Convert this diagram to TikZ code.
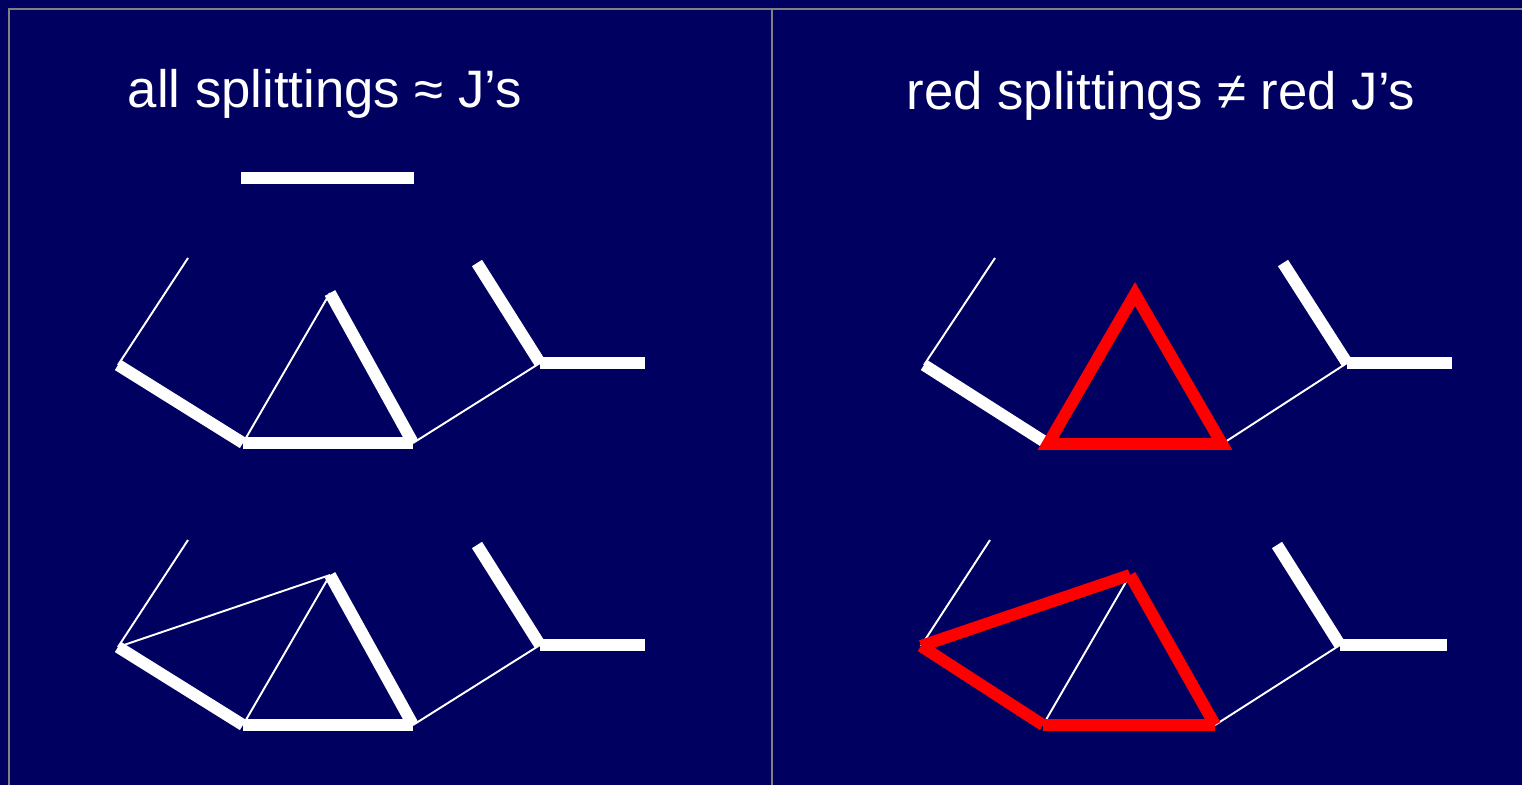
\documentclass[tikz,border=0pt]{standalone}
\usepackage{fontspec}
\setmainfont{Liberation Sans}
\definecolor{navy}{HTML}{000060}
\definecolor{frame}{HTML}{808080}
\definecolor{hot}{HTML}{FF0000}

\tikzstyle{title} = [text = white, anchor = base, font = \fontsize{30}{36}\selectfont, inner sep = 0pt]
\tikzstyle{weak} = [draw = white, line width = 1.1pt]
\tikzstyle{strong} = [draw = white, line width = 6.8pt]
\tikzstyle{redbond} = [draw = hot, line width = 6.8pt]
\tikzstyle{rule} = [draw = frame, line width = 1.2pt]

\begin{document}
\begin{tikzpicture}[x = 0.02cm, y = -0.02cm]
		\fill [navy] (0, 0) rectangle (1522, 785);
		\useasboundingbox (0, 0) rectangle (1522, 785);
		\coordinate (tl) at (9, 9);
		\coordinate (tr) at (1522, 9);
		\coordinate (bl) at (9, 785);
		\coordinate (mt) at (772, 9);
		\coordinate (mb) at (772, 785);
		\draw [rule] (tr) -- (tl) -- (bl);
		\draw [rule] (mt) -- (mb);

		\node [title] at (325, 107) (t1) {all splittings ≈ J’s};
		\node [title] at (1161, 109) (t2) {red splittings ≠ red J’s};

		% scale bar
		\coordinate (s1) at (241, 178);
		\coordinate (s2) at (414, 178);
		\draw [strong] (s1) -- (s2);

		% top left
		\coordinate (a1) at (188, 258);
		\coordinate (b1) at (118, 365);
		\coordinate (c1) at (243, 443);
		\coordinate (d1) at (330, 293);
		\coordinate (e1) at (413, 443);
		\coordinate (f1) at (540, 363);
		\coordinate (g1) at (477, 263);
		\coordinate (h1) at (645, 363);
		\draw [weak] (a1) -- (b1);
		\draw [weak] (c1) -- (d1);
		\draw [weak] (e1) -- (f1);
		\draw [strong] (b1) -- (c1);
		\draw [strong] (c1) -- (e1);
		\draw [strong] (d1) -- (e1);
		\draw [strong] (g1) -- (f1);
		\draw [strong] (f1) -- (h1);

		% bottom left
		\coordinate (a2) at (188, 540);
		\coordinate (b2) at (118, 647);
		\coordinate (c2) at (243, 725);
		\coordinate (d2) at (330, 575);
		\coordinate (e2) at (413, 725);
		\coordinate (f2) at (540, 645);
		\coordinate (g2) at (477, 545);
		\coordinate (h2) at (645, 645);
		\draw [weak] (a2) -- (b2);
		\draw [weak] (b2) -- (d2);
		\draw [weak] (c2) -- (d2);
		\draw [weak] (e2) -- (f2);
		\draw [strong] (b2) -- (c2);
		\draw [strong] (c2) -- (e2);
		\draw [strong] (d2) -- (e2);
		\draw [strong] (g2) -- (f2);
		\draw [strong] (f2) -- (h2);

		% top right
		\coordinate (a3) at (995, 258);
		\coordinate (b3) at (924, 365);
		\coordinate (c3) at (1048, 444);
		\coordinate (d3) at (1135, 294);
		\coordinate (e3) at (1222, 444);
		\coordinate (f3) at (1347, 363);
		\coordinate (g3) at (1283, 263);
		\coordinate (h3) at (1452, 363);
		\draw [weak] (a3) -- (b3);
		\draw [weak] (e3) -- (f3);
		\draw [strong] (b3) -- (c3);
		\draw [strong] (g3) -- (f3);
		\draw [strong] (f3) -- (h3);
		\draw [redbond, line join = miter] (c3) -- (d3) -- (e3) -- cycle;

		% bottom right
		\coordinate (a4) at (990, 540);
		\coordinate (b4) at (921, 646);
		\coordinate (c4) at (1043, 725);
		\coordinate (d4) at (1130, 575);
		\coordinate (e4) at (1215, 725);
		\coordinate (f4) at (1340, 645);
		\coordinate (g4) at (1277, 545);
		\coordinate (h4) at (1447, 645);
		\draw [weak] (a4) -- (b4);
		\draw [weak] (c4) -- (d4);
		\draw [weak] (e4) -- (f4);
		\draw [strong] (g4) -- (f4);
		\draw [strong] (f4) -- (h4);
		\draw [redbond] (b4) -- (d4);
		\draw [redbond] (b4) -- (c4);
		\draw [redbond] (d4) -- (e4);
		\draw [redbond] (c4) -- (e4);
\end{tikzpicture}
\end{document}
